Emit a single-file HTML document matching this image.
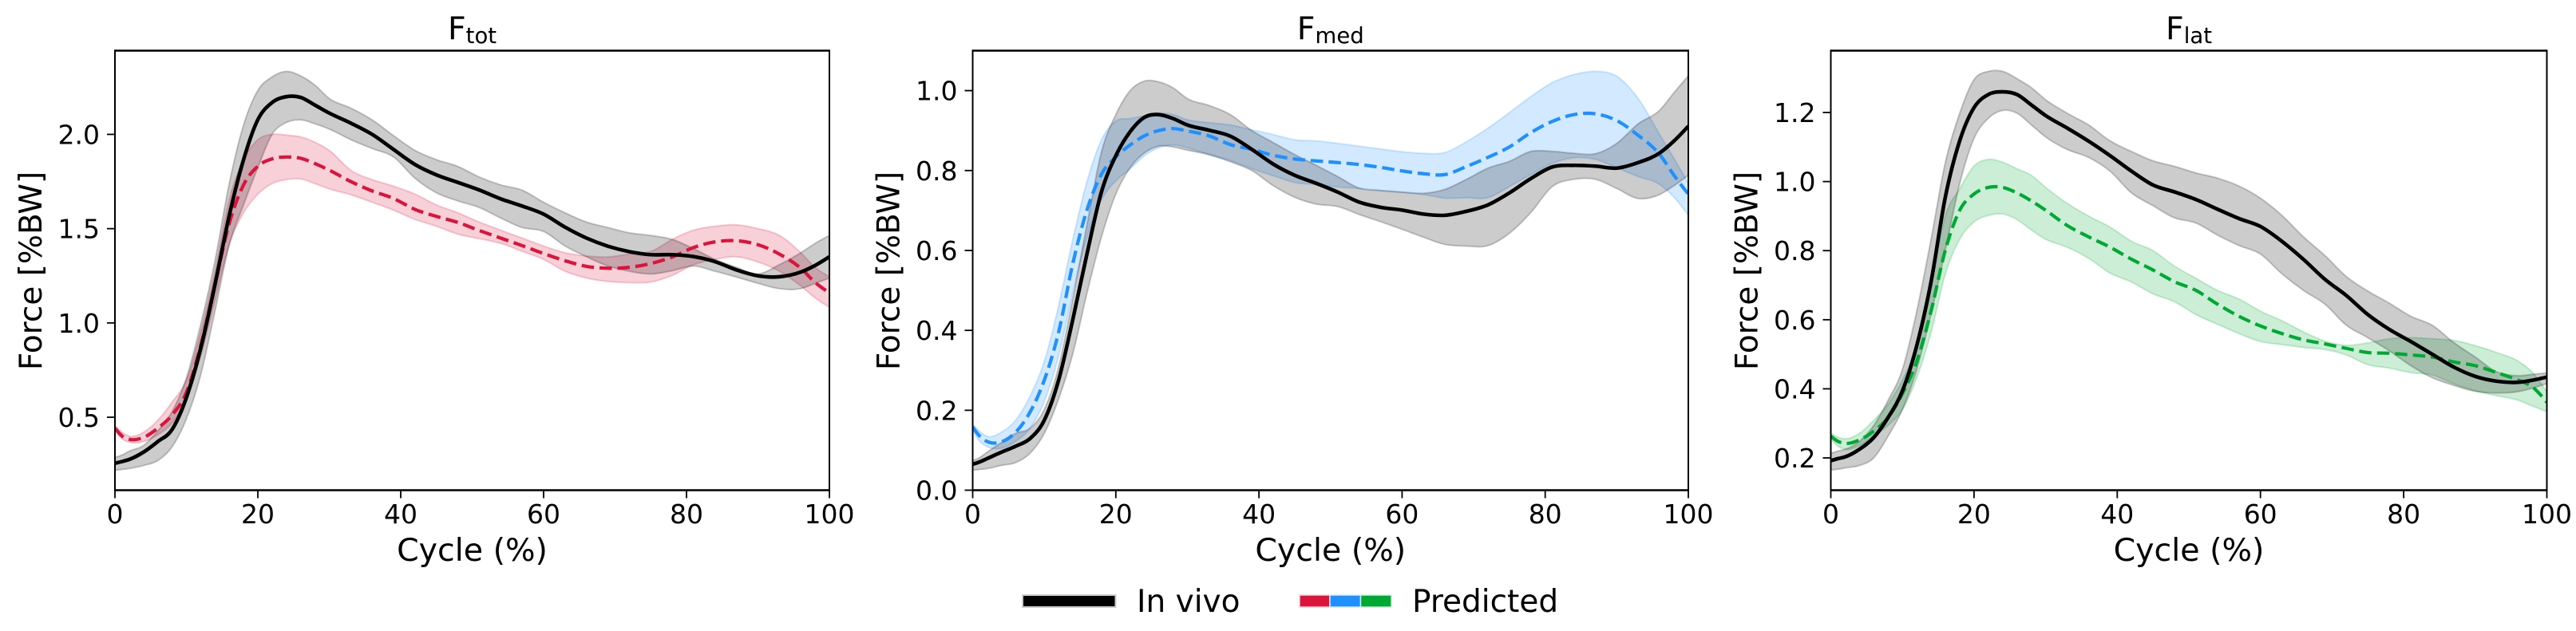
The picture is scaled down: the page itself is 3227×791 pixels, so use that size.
<!DOCTYPE html>
<html lang="en">
<head>
<meta charset="utf-8">
<title>Knee contact force: in vivo vs predicted</title>
<style>
  html, body { margin: 0; padding: 0; background: #fff; }
  svg { display: block; }
  text { font-family: "DejaVu Sans", "Liberation Sans", sans-serif; fill: #000; }
</style>
</head>
<body>
<svg id="figure" xmlns="http://www.w3.org/2000/svg" width="3227" height="791" viewBox="0 0 3227 791">
  <rect x="0" y="0" width="3227" height="791" fill="#fff"/>
  <g id="panels"></g>
  <g>
    <g>
      <rect x="1281" y="746" width="116.500" height="15" fill="#000" stroke="#ccc" stroke-width="2"/>
      <text x="1424" y="767" font-size="39">In vivo</text>
    </g>
    <g>
      <rect x="1628" y="746" width="38" height="15" fill="#DC143C" stroke="#f8d0d8" stroke-width="1.500"/>
      <rect x="1666" y="746" width="38.500" height="15" fill="#1E90FF" stroke="#d2e9ff" stroke-width="1.500"/>
      <rect x="1704.500" y="746" width="38.500" height="15" fill="#00A933" stroke="#cceed6" stroke-width="1.500"/>
      <text x="1769" y="767" font-size="39">Predicted</text>
    </g>
  </g>
</svg>
<script>
const cycle = [0,1,2,4,6,8,10,12,14,16,18,20,22,24,26,28,30,
  33,36,39,42,45,48,51,54,57,60,63,66,69,72,75,78,81,84,87,90,93,96,98,100];
const xTickValues = [0,20,40,60,80,100];

const ftotTicks = [0.5,1.0,1.5,2.0];
const ftotInVivoMean = [.256,.265,.276,.315,.371,.435,.604,.865,1.203,1.57,1.866,2.078,2.169,2.2,2.196,2.155,2.113,
  2.06,2.0,1.92,1.84,1.785,1.745,1.705,1.658,1.62,1.577,1.508,1.45,1.407,1.378,1.362,1.362,1.352,1.325,1.281,1.25,1.245,1.27,1.305,1.351];
const ftotInVivoUpper = [.287,.30,.32,.35,.428,.53,.709,.992,1.33,1.74,2.05,2.233,2.305,2.334,2.31,2.261,2.19,
  2.14,2.077,1.993,1.915,1.866,1.83,1.774,1.732,1.704,1.64,1.584,1.535,1.506,1.478,1.464,1.443,1.394,1.337,1.295,1.26,1.309,1.372,1.422,1.464];
const ftotInVivoLower = [.219,.223,.228,.244,.27,.343,.491,.724,1.062,1.415,1.626,1.824,2.0,2.063,2.077,2.056,2.028,
  1.972,1.925,1.88,1.767,1.69,1.647,1.612,1.556,1.506,1.485,1.408,1.351,1.302,1.274,1.26,1.277,1.302,1.274,1.243,1.21,1.182,1.182,1.21,1.238];
const ftotPredMean = [.442,.40,.383,.393,.442,.512,.632,.879,1.203,1.528,1.732,1.831,1.87,1.88,1.873,1.845,1.81,
  1.75,1.70,1.66,1.602,1.565,1.533,1.49,1.45,1.41,1.368,1.33,1.30,1.29,1.295,1.315,1.35,1.40,1.43,1.436,1.415,1.365,1.29,1.215,1.16];
const ftotPredUpper = [.456,.42,.40,.42,.484,.58,.696,.95,1.274,1.654,1.866,1.972,2.0,1.996,1.986,1.958,1.915,
  1.81,1.76,1.725,1.683,1.626,1.584,1.535,1.492,1.45,1.408,1.372,1.355,1.35,1.365,1.379,1.443,1.492,1.513,1.52,1.5,1.464,1.372,1.295,1.245];
const ftotPredLower = [.428,.385,.368,.371,.407,.47,.597,.823,1.119,1.415,1.584,1.683,1.739,1.76,1.764,1.739,1.711,
  1.68,1.64,1.598,1.549,1.513,1.471,1.447,1.422,1.38,1.337,1.274,1.238,1.22,1.214,1.217,1.252,1.309,1.337,1.351,1.323,1.274,1.196,1.133,1.083];

const fmedTicks = [0.0,0.2,0.4,0.6,0.8,1.0];
const fmedInVivoMean = [.065,.071,.079,.095,.11,.129,.175,.275,.428,.594,.747,.837,.897,.933,.94,.93,.914,
  .901,.886,.853,.816,.788,.768,.746,.721,.708,.701,.691,.688,.698,.714,.744,.78,.809,.813,.811,.806,.82,.844,.874,.911];
const fmedInVivoUpper = [.074,.082,.095,.119,.142,.155,.202,.308,.481,.668,.847,.94,1.0,1.024,1.022,1.007,.98,
  .963,.94,.90,.87,.84,.813,.785,.756,.75,.746,.743,.753,.778,.806,.823,.848,.848,.843,.842,.868,.917,.951,.995,1.037];
const fmedInVivoLower = [.05,.052,.054,.062,.069,.092,.142,.228,.342,.495,.634,.741,.807,.844,.861,.859,.851,
  .84,.822,.80,.762,.733,.716,.71,.69,.672,.653,.633,.615,.611,.612,.643,.695,.76,.778,.778,.755,.73,.74,.762,.788];
const fmedPredMean = [.158,.135,.122,.121,.145,.195,.275,.395,.568,.703,.791,.834,.864,.887,.9,.905,.899,
  .887,.865,.853,.838,.829,.824,.82,.815,.808,.799,.792,.79,.81,.833,.859,.895,.923,.94,.942,.925,.888,.84,.788,.741];
const fmedPredUpper = [.165,.147,.135,.145,.175,.235,.322,.461,.628,.774,.877,.924,.93,.937,.944,.94,.927,
  .92,.914,.902,.89,.877,.874,.868,.861,.854,.847,.843,.845,.872,.906,.945,.985,1.02,1.04,1.048,1.036,.98,.89,.83,.768];
const fmedPredLower = [.149,.122,.109,.105,.122,.155,.222,.335,.495,.634,.727,.774,.804,.837,.857,.864,.857,
  .84,.825,.805,.787,.77,.765,.759,.755,.75,.746,.74,.731,.732,.732,.76,.79,.818,.832,.828,.807,.785,.765,.733,.688];

const flatTicks = [0.2,0.4,0.6,0.8,1.0,1.2];
const flatInVivoMean = [.192,.198,.203,.225,.259,.317,.394,.525,.71,.956,1.118,1.214,1.252,1.26,1.252,1.222,1.191,
  1.155,1.117,1.075,1.03,.99,.97,.948,.92,.893,.87,.827,.775,.717,.67,.615,.572,.537,.50,.463,.436,.422,.419,.425,.434];
const flatInVivoUpper = [.213,.22,.225,.248,.294,.367,.456,.625,.833,1.056,1.198,1.295,1.319,1.319,1.298,1.272,1.237,
  1.198,1.164,1.118,1.087,1.06,1.044,1.025,1.01,.987,.952,.902,.84,.786,.725,.683,.648,.61,.584,.534,.492,.449,.438,.442,.446];
const flatInVivoLower = [.165,.167,.171,.178,.2,.263,.34,.456,.617,.802,.994,1.125,1.183,1.206,1.198,1.164,1.129,
  1.093,1.07,1.03,.967,.93,.895,.88,.845,.815,.79,.733,.685,.645,.584,.548,.51,.467,.432,.41,.393,.388,.392,.402,.415];
const flatPredMean = [.263,.248,.242,.252,.278,.317,.386,.479,.625,.802,.917,.964,.983,.983,.967,.944,.917,
  .873,.84,.81,.775,.744,.71,.685,.645,.61,.582,.56,.542,.53,.517,.505,.503,.498,.492,.478,.467,.447,.425,.405,.361];
const flatPredUpper = [.271,.26,.255,.271,.309,.356,.425,.525,.71,.902,.979,1.045,1.064,1.056,1.037,1.018,.983,
  .937,.90,.868,.827,.80,.755,.72,.685,.66,.625,.597,.565,.538,.526,.533,.545,.548,.545,.54,.525,.505,.48,.447,.391];
const flatPredLower = [.255,.234,.225,.236,.263,.294,.34,.432,.563,.733,.833,.883,.902,.906,.89,.86,.833,
  .81,.778,.735,.709,.675,.652,.615,.587,.56,.537,.528,.52,.514,.498,.47,.46,.447,.44,.415,.394,.38,.367,.35,.334];

const NS = 'http://www.w3.org/2000/svg';
const PLOT_TOP = 63.5, PLOT_BOTTOM = 614.5;

function svgEl(tag, attrs, parent) {
  const el = document.createElementNS(NS, tag);
  for (const k in attrs) el.setAttribute(k, attrs[k]);
  parent.appendChild(el);
  return el;
}

/* smooth cubic segments through (xs, ys) using non-uniform finite-difference tangents */
function segments(xs, ys) {
  const n = xs.length, h = [], s = [], m = new Array(n).fill(0);
  for (let i = 0; i < n - 1; i++) { h[i] = xs[i+1] - xs[i]; s[i] = (ys[i+1] - ys[i]) / h[i]; }
  for (let i = 1; i < n - 1; i++) {
    m[i] = (s[i-1] * h[i] + s[i] * h[i-1]) / (h[i-1] + h[i]);
  }
  m[0] = (3 * s[0] - m[1]) / 2;
  m[n-1] = (3 * s[n-2] - m[n-2]) / 2;
  const segs = [];
  for (let i = 0; i < n - 1; i++) {
    segs.push([xs[i], ys[i], xs[i] + h[i]/3, ys[i] + m[i]*h[i]/3, xs[i+1] - h[i]/3, ys[i+1] - m[i+1]*h[i]/3, xs[i+1], ys[i+1]]);
  }
  return segs;
}
function fwd(segs) {
  return segs.map(a => `C${a[2].toFixed(2)} ${a[3].toFixed(2)} ${a[4].toFixed(2)} ${a[5].toFixed(2)} ${a[6].toFixed(2)} ${a[7].toFixed(2)}`).join('');
}
function rev(segs) {
  return segs.slice().reverse().map(a => `C${a[4].toFixed(2)} ${a[5].toFixed(2)} ${a[2].toFixed(2)} ${a[3].toFixed(2)} ${a[0].toFixed(2)} ${a[1].toFixed(2)}`).join('');
}
function linePath(xs, ys) {
  return `M${xs[0].toFixed(2)} ${ys[0].toFixed(2)}` + fwd(segments(xs, ys));
}
function bandPath(xs, up, lo) {
  const su = segments(xs, up), sl = segments(xs, lo);
  return `M${xs[0].toFixed(2)} ${up[0].toFixed(2)}` + fwd(su) + `L${xs[xs.length-1].toFixed(2)} ${lo[lo.length-1].toFixed(2)}` + rev(sl) + 'Z';
}

function drawPanel(cfg) {
  const root = document.getElementById('panels');
  const xScale = v => cfg.left + (v - 0) / 100 * (cfg.right - cfg.left);
  const yScale = v => PLOT_BOTTOM - (v - cfg.yMin) / (cfg.yMax - cfg.yMin) * (PLOT_BOTTOM - PLOT_TOP);
  const g = svgEl('g', {}, root);
  
  

  const clipId = 'clip-' + cfg.id;
  const defs = svgEl('defs', {}, g);
  const cp = svgEl('clipPath', { id: clipId }, defs);
  svgEl('rect', { x: cfg.left, y: PLOT_TOP, width: cfg.right - cfg.left, height: PLOT_BOTTOM - PLOT_TOP }, cp);

  const plot = svgEl('g', { 'clip-path': `url(#${clipId})` }, g);
  
  
  const xs = cycle.map(xScale);

  const predBand = svgEl('path', { d: bandPath(xs, cfg.predUpper.map(yScale), cfg.predLower.map(yScale)), fill: cfg.color, 'fill-opacity': .2, stroke: cfg.color, 'stroke-opacity': .2, 'stroke-width': 2 }, plot);
  
  

  const vivoBand = svgEl('path', { d: bandPath(xs, cfg.vivoUpper.map(yScale), cfg.vivoLower.map(yScale)), fill: '#000', 'fill-opacity': .2, stroke: '#000', 'stroke-opacity': .2, 'stroke-width': 2 }, plot);
  
  

  const predLine = svgEl('path', { d: linePath(xs, cfg.predMean.map(yScale)), fill: 'none', stroke: cfg.color, 'stroke-width': 4.2, 'stroke-dasharray': '15.500 7' }, plot);
  
  

  const vivoLine = svgEl('path', { d: linePath(xs, cfg.vivoMean.map(yScale)), fill: 'none', stroke: '#000', 'stroke-width': 4.6 }, plot);
  
  

  /* frame */
  const frame = svgEl('g', {}, g);
  
  
  svgEl('line', { x1: cfg.left, x2: cfg.left, y1: PLOT_TOP, y2: PLOT_BOTTOM, stroke: '#000', 'stroke-width': 2 }, frame);
  svgEl('line', { x1: cfg.right, x2: cfg.right, y1: PLOT_TOP, y2: PLOT_BOTTOM, stroke: '#000', 'stroke-width': 2 }, frame);
  svgEl('line', { x1: cfg.left - 1, x2: cfg.right + 1, y1: PLOT_TOP, y2: PLOT_TOP, stroke: '#000', 'stroke-width': 2.6 }, frame);
  svgEl('line', { x1: cfg.left - 1, x2: cfg.right + 1, y1: PLOT_BOTTOM, y2: PLOT_BOTTOM, stroke: '#000', 'stroke-width': 2.6 }, frame);

  /* x axis */
  const xAxis = svgEl('g', {}, g);
  
  
  xTickValues.forEach(v => {
    const px = xScale(v);
    const t = svgEl('line', { x1: px, x2: px, y1: PLOT_BOTTOM, y2: PLOT_BOTTOM + 10, stroke: '#000', 'stroke-width': 1.8 }, xAxis);
    
    
    const l = svgEl('text', { x: px, y: 656, 'font-size': 33, 'text-anchor': 'middle' }, xAxis);
    
    
    l.textContent = String(v);
  });
  const xTitle = svgEl('text', { x: (cfg.left + cfg.right) / 2, y: 703, 'font-size': 39.500, 'text-anchor': 'middle' }, xAxis);
  
  
  xTitle.textContent = 'Cycle (%)';

  /* y axis */
  const yAxis = svgEl('g', {}, g);
  
  
  cfg.ticks.forEach(v => {
    const py = yScale(v);
    const t = svgEl('line', { x1: cfg.left - 10, x2: cfg.left, y1: py, y2: py, stroke: '#000', 'stroke-width': 1.8 }, yAxis);
    
    
    const l = svgEl('text', { x: cfg.left - 19, y: py + 12, 'font-size': 33, 'text-anchor': 'end' }, yAxis);
    
    
    l.textContent = v.toFixed(1);
  });
  const yTitle = svgEl('text', { transform: `translate(${cfg.left - 92},339.500) rotate(-90)`, 'font-size': 39, 'text-anchor': 'middle' }, yAxis);
  
  
  yTitle.textContent = 'Force [%BW]';

  /* title */
  const title = svgEl('text', { x: (cfg.left + cfg.right) / 2, y: 49, 'font-size': 39.500, 'text-anchor': 'middle' }, g);
  
  
  const main = svgEl('tspan', {}, title);
  main.textContent = 'F';
  const sub = svgEl('tspan', { 'font-size': 27.500, dy: 5 }, title);
  sub.textContent = cfg.sub;
}

drawPanel({ id: 'ftot', sub: 'tot', left: 144, right: 1039, yMin: 0.113, yMax: 2.444, color: '#DC143C', ticks: ftotTicks,
  vivoMean: ftotInVivoMean, vivoUpper: ftotInVivoUpper, vivoLower: ftotInVivoLower,
  predMean: ftotPredMean, predUpper: ftotPredUpper, predLower: ftotPredLower });
drawPanel({ id: 'fmed', sub: 'med', left: 1218.500, right: 2115, yMin: 0, yMax: 1.1, color: '#1E90FF', ticks: fmedTicks,
  vivoMean: fmedInVivoMean, vivoUpper: fmedInVivoUpper, vivoLower: fmedInVivoLower,
  predMean: fmedPredMean, predUpper: fmedPredUpper, predLower: fmedPredLower });
drawPanel({ id: 'flat', sub: 'lat', left: 2293.500, right: 3190.500, yMin: 0.1065, yMax: 1.379, color: '#00A933', ticks: flatTicks,
  vivoMean: flatInVivoMean, vivoUpper: flatInVivoUpper, vivoLower: flatInVivoLower,
  predMean: flatPredMean, predUpper: flatPredUpper, predLower: flatPredLower });
</script>
</body>
</html>
